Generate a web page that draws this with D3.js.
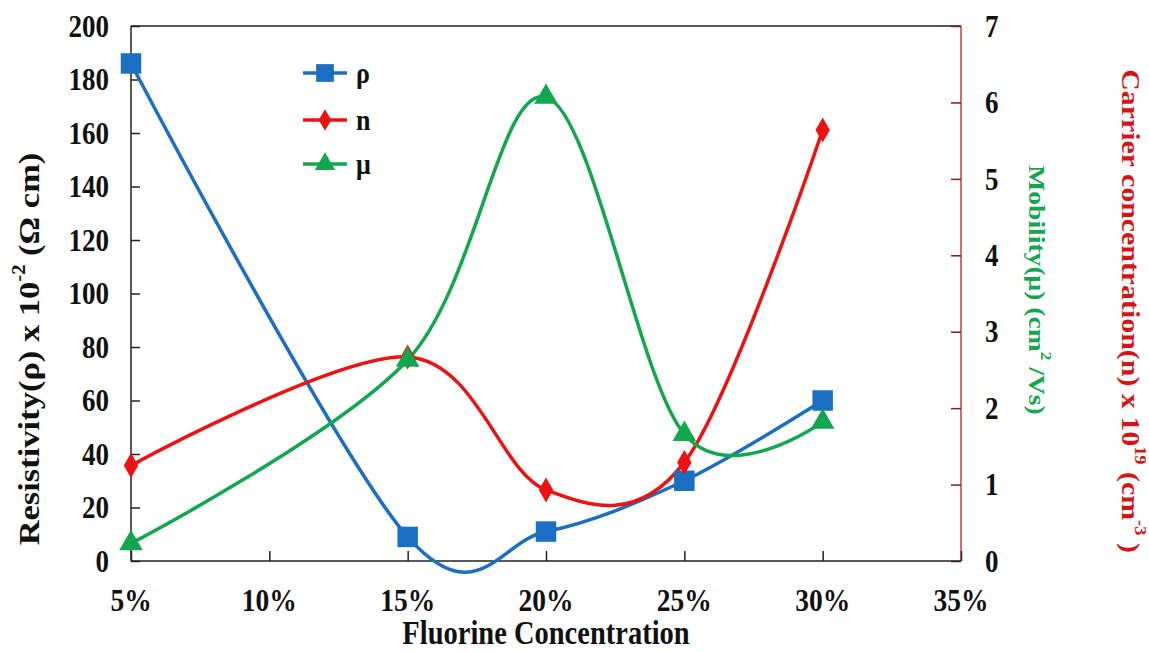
<!DOCTYPE html>
<html>
<head>
<meta charset="utf-8">
<script src="https://cdn.jsdelivr.net/npm/d3@7"></script>
<style>
  html, body { margin: 0; padding: 0; background: #fff; }
  svg { display: block; }
  text { font-family: "Liberation Serif", "Times New Roman", serif; font-weight: bold; }
</style>
</head>
<body>
<svg id="chart" width="1149" height="652"></svg>
<script>
// Fluorine concentration of each sample (fraction)
const fluorine = [0.05, 0.15, 0.20, 0.25, 0.30];
// Resistivity ρ (x 10^-2 Ω cm) — left axis
const resistivity = [186, 9, 11, 30, 60];
// Carrier concentration n (x 10^19 cm^-3) — right axis
const carrier = [1.25, 2.67, 0.93, 1.29, 5.64];
// Mobility μ (cm^2/Vs) — right axis
const mobility = [0.23, 2.63, 6.07, 1.66, 1.82];

const xTicks = [0.05, 0.10, 0.15, 0.20, 0.25, 0.30, 0.35];
const leftTicks = [0, 20, 40, 60, 80, 100, 120, 140, 160, 180, 200];
const rightTicks = [0, 1, 2, 3, 4, 5, 6, 7];

const plot = { left: 131, right: 961, top: 26, bottom: 561 };
const STRETCH = 1.15; // glyphs are drawn slightly tall

const svg = d3.select("#chart");

const x = d3.scaleLinear().domain([0.05, 0.35]).range([plot.left, plot.right]);
const yL = d3.scaleLinear().domain([0, 200]).range([plot.bottom, plot.top]);
const yR = d3.scaleLinear().domain([0, 7]).range([plot.bottom, plot.top]);

const BLUE = "#1a6fc2", RED = "#ee1111", GREEN = "#12a64f";

// place a text element at (px, py), stretched vertically, optionally rotated
function label(parent, px, py, rot) {
  return parent.append("text")
    .attr("transform", `translate(${px},${py}) scale(1,${STRETCH})` + (rot ? ` rotate(${rot})` : ""))
    .attr("dominant-baseline", "central");
}

// frame: top border
svg.append("line")
  .attr("x1", plot.left).attr("x2", plot.right)
  .attr("y1", plot.top).attr("y2", plot.top)
  .attr("stroke", "#222").attr("stroke-width", 1.5);

// left axis
const leftAxis = svg.append("g")
  .attr("transform", `translate(${plot.left},0)`)
  .call(d3.axisRight(yL).tickValues(leftTicks).tickSize(9).tickFormat(""));
leftAxis.select(".domain").attr("stroke", "#222").attr("stroke-width", 1.5).attr("d", `M0,${plot.top}V${plot.bottom}`);
leftAxis.selectAll(".tick line").attr("stroke", "#222").attr("stroke-width", 1.5);
leftTicks.forEach(d => {
  label(svg, 109, yL(d)).attr("text-anchor", "end")
    .attr("font-size", 27).attr("fill", "#111").text(d);
});

// right axis
const rightAxis = svg.append("g")
  .attr("transform", `translate(${plot.right},0)`)
  .call(d3.axisLeft(yR).tickValues(rightTicks).tickSize(10).tickFormat(""));
rightAxis.select(".domain").attr("stroke", "#c8393b").attr("stroke-width", 1.5).attr("d", `M0,${plot.top}V${plot.bottom}`);
rightAxis.selectAll(".tick line").attr("stroke", "#7a1f1f").attr("stroke-width", 1.5);
rightTicks.forEach(d => {
  label(svg, plot.right + 24, yR(d)).attr("text-anchor", "start")
    .attr("font-size", 27).attr("fill", "#111").text(d);
});

// bottom axis
const bottomAxis = svg.append("g")
  .attr("transform", `translate(0,${plot.bottom})`)
  .call(d3.axisTop(x).tickValues(xTicks).tickSize(10).tickFormat(""));
bottomAxis.select(".domain").attr("stroke", "#222").attr("stroke-width", 1.5).attr("d", `M${plot.left},0H${plot.right}`);
bottomAxis.selectAll(".tick line").attr("stroke", "#222").attr("stroke-width", 1.5);
xTicks.forEach(d => {
  label(svg, x(d), 600).attr("text-anchor", "middle")
    .attr("font-size", 27.5).attr("fill", "#111").text(d3.format(".0%")(d));
});

// axis titles
label(svg, 546, 633).attr("text-anchor", "middle")
  .attr("font-size", 28.5).attr("fill", "#111")
  .text("Fluorine Concentration");

const leftTitle = label(svg, 29, 349, -90).attr("text-anchor", "middle")
  .attr("font-size", 30).attr("fill", "#111");
leftTitle.append("tspan").text("Resistivity(ρ) x 10");
leftTitle.append("tspan").attr("dy", -11).attr("font-size", 18).text("-2");
leftTitle.append("tspan").attr("dy", 11).text(" (Ω cm)");

const muTitle = label(svg, 1037, 290, 90).attr("text-anchor", "middle")
  .attr("font-size", 24).attr("fill", GREEN);
muTitle.append("tspan").text("Mobility(μ) (cm");
muTitle.append("tspan").attr("dy", -10).attr("font-size", 15).text("2");
muTitle.append("tspan").attr("dy", 10).text(" /Vs)");

const nTitle = label(svg, 1131, 311, 90).attr("text-anchor", "middle")
  .attr("font-size", 26).attr("fill", "#d41515");
nTitle.append("tspan").text("Carrier concentration(n) x 10");
nTitle.append("tspan").attr("dy", -10).attr("font-size", 16).text("19");
nTitle.append("tspan").attr("dy", 10).text(" (cm");
nTitle.append("tspan").attr("dy", -10).attr("font-size", 16).text("-3");
nTitle.append("tspan").attr("dy", 10).text(" )");

// series
const series = [
  { name: "ρ", values: resistivity, y: yL, color: BLUE, shape: d3.symbolSquare, size: 420 },
  { name: "n", values: carrier, y: yR, color: RED, shape: d3.symbolDiamond, size: 180 },
  { name: "μ", values: mobility, y: yR, color: GREEN, shape: d3.symbolTriangle, size: 240 }
];

const curve = d3.curveCatmullRom.alpha(0);

series.forEach(s => {
  const pts = fluorine.map((f, i) => [x(f), s.y(s.values[i])]);
  svg.append("path")
    .attr("d", d3.line().curve(curve)(pts))
    .attr("fill", "none").attr("stroke", s.color).attr("stroke-width", 3.5);
});
series.forEach(s => {
  svg.append("g").selectAll("path").data(fluorine).join("path")
    .attr("transform", (f, i) => `translate(${x(f)},${s.y(s.values[i])})`)
    .attr("d", d3.symbol().type(s.shape).size(s.size))
    .attr("fill", s.color);
});

// legend
const legendRows = [73, 120, 164];
series.forEach((s, i) => {
  const g = svg.append("g").attr("transform", `translate(0,${legendRows[i]})`);
  g.append("line").attr("x1", 303).attr("x2", 347).attr("y1", 0).attr("y2", 0)
    .attr("stroke", s.color).attr("stroke-width", 3.5);
  g.append("path").attr("transform", "translate(325,0)")
    .attr("d", d3.symbol().type(s.shape).size(s.size * 0.75)).attr("fill", s.color);
  label(g, 356, 0).attr("font-size", 26).attr("fill", "#111").text(s.name);
});
</script>
</body>
</html>
